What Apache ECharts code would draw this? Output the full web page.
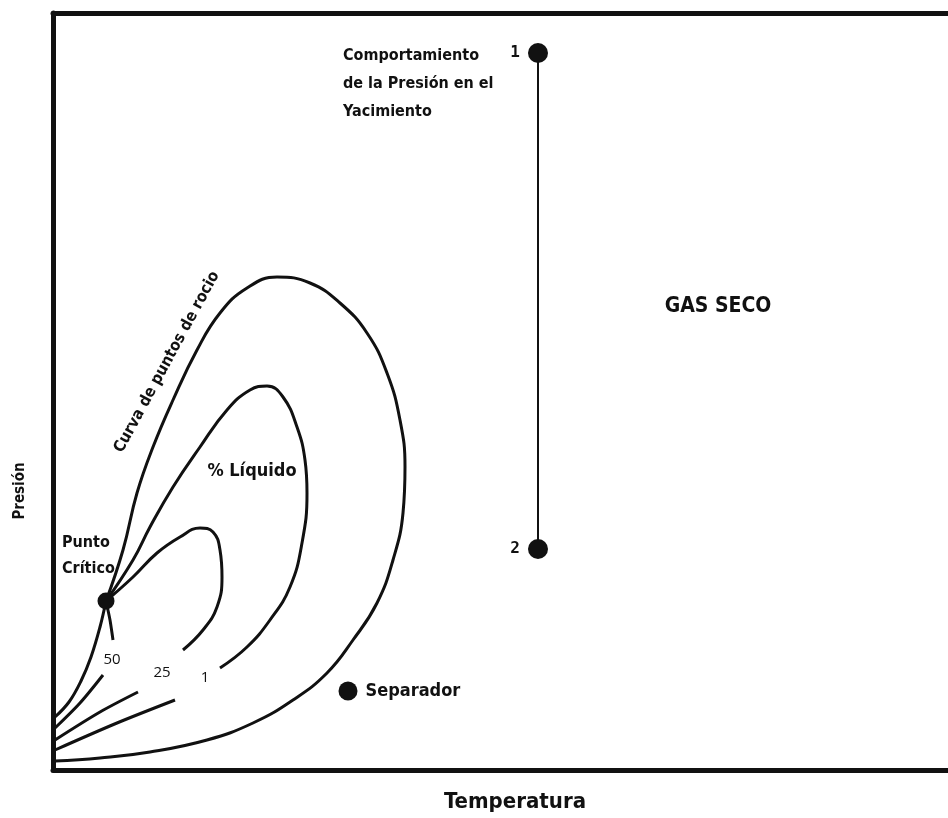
<!DOCTYPE html>
<html>
<head>
<meta charset="utf-8">
<script src="https://cdn.jsdelivr.net/npm/echarts@6/dist/echarts.min.js"></script>
<style>
html,body{margin:0;padding:0;background:#fff;overflow:hidden;}
#chart{width:948px;height:818px;}
</style>
</head>
<body>
<div id="chart"></div>
<script>
// ---- data (Temperatura on x, Presión on y; arbitrary units) ----
var criticalPoint = [[5.3, 16.9]];
var bubbleCurve = [[0.2, 5.3], [1.6, 6.8], [2.8, 8.9], [3.8, 11.3], [4.7, 14.3], [5.3, 16.9]];
var dewCurve = [[5.3, 16.9], [7.0, 22.0], [8.4, 27.7], [10.0, 32.3], [12.0, 37.0], [14.4, 42.0],
  [16.7, 45.7], [19.4, 48.2], [22.4, 49.3], [25.7, 48.7], [28.7, 46.7], [31.4, 43.7],
  [33.4, 39.7], [34.7, 35.0], [35.2, 30.3], [35.0, 25.7], [34.0, 21.0], [32.4, 16.7],
  [30.0, 13.0], [27.4, 9.7], [24.0, 7.0], [20.0, 4.7], [15.4, 3.0], [9.7, 1.8], [4.7, 1.2], [0.2, 0.9]];
var liq1Upper = [[5.3, 16.9], [8.0, 21.0], [9.7, 24.3], [12.0, 28.3], [14.7, 32.3], [17.4, 36.0],
  [19.7, 38.0], [21.4, 38.4], [23.0, 37.3], [24.4, 34.3], [25.2, 31.0], [25.4, 27.7],
  [24.9, 22.7], [23.7, 18.3], [21.7, 15.0], [19.4, 12.3], [16.7, 10.2]];
var liq1Lower = [[12.2, 7.0], [6.4, 4.7], [0.2, 2.0]];
var liq25Upper = [[5.3, 16.9], [8.0, 19.3], [10.4, 21.7], [12.7, 23.3], [14.7, 24.2], [16.0, 23.8],
  [16.7, 22.0], [16.9, 19.3], [16.4, 16.3], [15.0, 14.0], [13.0, 12.0]];
var liq25Lower = [[8.5, 7.8], [4.7, 5.8], [0.2, 3.0]];
var liq50Upper = [[5.3, 16.9], [5.7, 15.0], [6.0, 13.0]];
var liq50Lower = [[5.0, 9.5], [2.7, 6.7], [0.2, 4.2]];
var reservoirPath = [[48.5, 71.7], [48.5, 22.1]];
var reservoirLabels = ['1', '2'];
var separator = [[29.5, 7.9]];
var qualityLabels = ['50', '25', '1'];

var chart = echarts.init(document.getElementById('chart'), null, {renderer: 'canvas'});
var cond = "'Liberation Sans Narrow', 'DejaVu Sans Condensed', 'Roboto Condensed', 'Open Sans', sans-serif";
var black = '#111';

function curve(name, data, smooth, width) {
  return {
    name: name, type: 'line', data: data, smooth: smooth, symbol: 'none',
    lineStyle: {color: black, width: width || 3}, silent: true, z: 2
  };
}
function frameAxis(extra) {
  return Object.assign({
    type: 'value', axisLine: {show: true, onZero: false, lineStyle: {color: black, width: 5}},
    axisTick: {show: false}, axisLabel: {show: false}, splitLine: {show: false}
  }, extra);
}

var option = {
  animation: false,
  backgroundColor: '#fff',
  grid: {left: 53, top: 13, width: 895, height: 757, show: false},
  xAxis: [
    frameAxis({min: 0, max: 89.5, position: 'bottom'}),
    frameAxis({min: 0, max: 89.5, position: 'top'})
  ],
  yAxis: frameAxis({min: 0, max: 75.7, position: 'left'}),
  series: [
    curve('bubble', bubbleCurve, 0.4),
    curve('dew', dewCurve, 0.45),
    curve('1 upper', liq1Upper, 0.45),
    curve('1 lower', liq1Lower, 0.3),
    curve('25 upper', liq25Upper, 0.45),
    curve('25 lower', liq25Lower, 0.3),
    curve('50 upper', liq50Upper, 0.2),
    curve('50 lower', liq50Lower, 0.3),
    {
      name: 'path', type: 'line', data: reservoirPath, symbol: 'circle', symbolSize: 20,
      itemStyle: {color: black, opacity: 1}, lineStyle: {color: black, width: 2},
      label: {show: true, position: 'left', distance: 8, color: black,
        fontFamily: "'DejaVu Sans Mono', monospace", fontWeight: 'bold', fontSize: 16,
        formatter: function (p) { return reservoirLabels[p.dataIndex]; }}
    },
    {
      name: 'separator', type: 'scatter', data: separator, symbolSize: 19,
      itemStyle: {color: black, opacity: 1},
      label: {show: true, position: 'right', distance: 8, color: black, fontFamily: cond,
        fontWeight: 'bold', fontSize: 18, formatter: 'Separador'}
    },
    {
      name: 'critical', type: 'scatter', data: criticalPoint, symbolSize: 17,
      itemStyle: {color: black, opacity: 1}, z: 3
    }
  ],
  graphic: [
    {type: 'text', left: 343, top: 42, style: {text: 'Comportamiento\nde la Presión en el\nYacimiento', fill: black,
      font: 'bold 16px ' + cond, lineHeight: 28}},
    {type: 'text', x: 718, y: 307, style: {text: 'GAS SECO', fill: black, font: 'bold 21px ' + cond,
      align: 'center', verticalAlign: 'middle'}},
    {type: 'text', x: 62, y: 530, style: {text: 'Punto\nCrítico', fill: black, font: 'bold 16px ' + cond, lineHeight: 26}},
    {type: 'text', x: 252, y: 471, style: {text: '% Líquido', fill: black, font: 'bold 18px ' + cond,
      align: 'center', verticalAlign: 'middle'}},
    {type: 'text', x: 167, y: 362, rotation: 61.5 * Math.PI / 180,
      style: {text: 'Curva de puntos de rocio', fill: black, font: 'bold 16px ' + cond,
      align: 'center', verticalAlign: 'middle'}},
    {type: 'text', x: 112, y: 660, style: {text: qualityLabels[0], fill: black, font: '15px "Open Sans", sans-serif',
      align: 'center', verticalAlign: 'middle'}},
    {type: 'text', x: 162, y: 673, style: {text: qualityLabels[1], fill: black, font: '15px "Open Sans", sans-serif',
      align: 'center', verticalAlign: 'middle'}},
    {type: 'text', x: 205, y: 678, style: {text: qualityLabels[2], fill: black, font: '15px "Open Sans", sans-serif',
      align: 'center', verticalAlign: 'middle'}},
    {type: 'text', x: 515, y: 802, style: {text: 'Temperatura', fill: black, font: 'bold 22px ' + cond,
      align: 'center', verticalAlign: 'middle'}},
    {type: 'text', x: 20, y: 491, rotation: Math.PI / 2, style: {text: 'Presión', fill: black, font: 'bold 15px ' + cond,
      align: 'center', verticalAlign: 'middle'}}
  ]
};
chart.setOption(option);
</script>
</body>
</html>
